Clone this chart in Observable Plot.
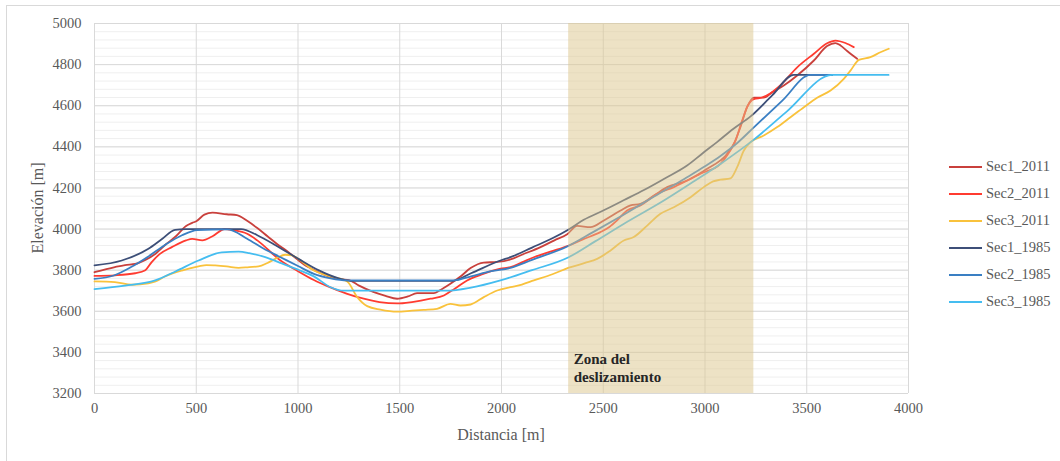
<!DOCTYPE html>
<html>
<head>
<meta charset="utf-8">
<script src="https://cdn.jsdelivr.net/npm/d3@7"></script>
<script src="https://cdn.jsdelivr.net/npm/@observablehq/plot@0.6"></script>
<style>
  html, body { margin: 0; padding: 0; background: #fff; overflow: hidden; }
  #wrap { position: relative; width: 1060px; height: 461px; overflow: hidden; font-family: "Liberation Serif", "Times New Roman", Tinos, "DejaVu Serif", serif; }
  #frame { position: absolute; left: 6px; top: 5px; width: 1100px; height: 500px; border: 1px solid #d9d9d9; box-sizing: border-box; }
  #chart { position: absolute; left: 0; top: 0; }
  #chart svg, #chart svg text { font-family: "Liberation Serif", "Times New Roman", Tinos, "DejaVu Serif", serif !important; }
  .legend { position: absolute; left: 949px; font-size: 14.5px; color: #595959; display: flex; align-items: center; white-space: nowrap; }
  .legend svg { margin-right: 4px; }
  .title { position: absolute; font-size: 16px; color: #595959; white-space: nowrap; }
</style>
</head>
<body>
<div id="wrap">
  <div id="frame"></div>
  <div id="chart"></div>
</div>
<script>
// ---- data ----
const seriesNames = ["Sec1_2011", "Sec2_2011", "Sec3_2011", "Sec1_1985", "Sec2_1985", "Sec3_1985"];
const seriesColors = ["#c9403c", "#ff3b30", "#f9c23c", "#3d4f78", "#3a7fc3", "#45bdf0"];

const sec1_2011 = [[0,3790],[100,3815],[150,3825],[200,3830],[250,3850],[300,3880],[350,3925],[400,3965],[450,4015],[480,4030],[500,4038],[540,4070],[580,4080],[650,4072],[700,4068],[750,4040],[800,4005],[850,3965],[900,3925],[950,3890],[1000,3850],[1050,3815],[1100,3790],[1150,3770],[1209,3756],[1250,3752],[1300,3725],[1373,3693],[1430,3675],[1487,3661],[1540,3672],[1585,3688],[1630,3688],[1667,3688],[1710,3710],[1749,3734],[1800,3770],[1848,3810],[1913,3837],[1979,3840],[2044,3852],[2100,3875],[2192,3912],[2260,3945],[2323,3975],[2372,4015],[2437,4009],[2503,4042],[2585,4090],[2634,4115],[2683,4123],[2749,4163],[2814,4204],[2912,4236],[3011,4293],[3076,4334],[3100,4355],[3142,4415],[3174,4496],[3207,4593],[3240,4639],[3289,4639],[3330,4665],[3387,4698],[3453,4747],[3535,4820],[3600,4890],[3641,4905],[3666,4893],[3700,4865],[3748,4828]];

const sec2_2011 = [[0,3772],[100,3775],[200,3785],[250,3800],[280,3838],[320,3878],[380,3912],[450,3945],[480,3952],[530,3945],[580,3965],[640,4000],[680,3995],[750,3977],[800,3945],[914,3847],[1000,3795],[1078,3752],[1150,3720],[1242,3685],[1323,3661],[1400,3645],[1487,3638],[1560,3645],[1651,3661],[1717,3677],[1770,3710],[1831,3750],[1900,3778],[1995,3807],[2044,3815],[2100,3838],[2159,3863],[2240,3890],[2331,3920],[2400,3950],[2486,3985],[2530,4010],[2568,4042],[2617,4090],[2683,4115],[2765,4172],[2847,4204],[2978,4269],[3076,4317],[3110,4360],[3150,4430],[3180,4520],[3210,4600],[3240,4632],[3280,4640],[3320,4660],[3371,4700],[3453,4787],[3535,4853],[3600,4904],[3641,4917],[3690,4905],[3731,4885]];

const sec3_2011 = [[0,3745],[100,3742],[183,3729],[265,3736],[300,3745],[346,3769],[429,3798],[511,3818],[550,3825],[593,3823],[650,3818],[708,3811],[760,3815],[806,3818],[850,3835],[888,3855],[937,3875],[970,3872],[1002,3855],[1078,3798],[1150,3772],[1242,3745],[1291,3669],[1340,3625],[1405,3608],[1487,3598],[1560,3603],[1618,3607],[1683,3612],[1749,3636],[1798,3628],[1848,3633],[1913,3669],[1979,3701],[2044,3717],[2100,3730],[2159,3750],[2250,3780],[2331,3812],[2410,3835],[2470,3855],[2536,3896],[2601,3944],[2650,3961],[2716,4017],[2781,4074],[2847,4106],[2929,4155],[2994,4204],[3040,4232],[3076,4240],[3125,4246],[3158,4301],[3191,4382],[3224,4423],[3289,4455],[3355,4496],[3420,4544],[3486,4593],[3551,4639],[3617,4674],[3682,4731],[3715,4771],[3756,4823],[3813,4836],[3862,4860],[3903,4877]];

const sec1_1985 = [[0,3823],[134,3847],[265,3904],[330,3950],[396,3996],[450,4000],[720,4000],[800,3970],[900,3915],[1002,3855],[1100,3800],[1200,3760],[1258,3748],[1760,3748],[1850,3785],[1995,3847],[2044,3863],[2150,3910],[2250,3955],[2330,3998],[2404,4045],[2500,4090],[2600,4140],[2700,4190],[2800,4245],[2912,4309],[2990,4370],[3059,4423],[3140,4488],[3224,4548],[3330,4650],[3436,4750],[3625,4750]];

const sec2_1985 = [[0,3758],[95,3774],[180,3815],[259,3863],[350,3925],[430,3970],[505,3995],[652,3998],[750,3953],[830,3905],[914,3863],[1000,3820],[1078,3782],[1160,3760],[1242,3750],[1766,3750],[1850,3770],[1950,3795],[2044,3811],[2150,3850],[2323,3915],[2450,3985],[2600,4070],[2750,4158],[2900,4245],[3000,4305],[3076,4355],[3160,4420],[3240,4495],[3380,4625],[3518,4750],[3625,4750]];

const sec3_1985 = [[0,3708],[150,3725],[298,3750],[400,3795],[511,3847],[626,3887],[708,3890],[760,3883],[839,3863],[920,3833],[1002,3802],[1078,3770],[1160,3717],[1225,3700],[1733,3700],[1850,3715],[1995,3750],[2150,3800],[2330,3863],[2460,3940],[2600,4025],[2800,4140],[2950,4235],[3076,4317],[3240,4435],[3400,4570],[3625,4750],[3902,4750]];

const xTicks = [0, 500, 1000, 1500, 2000, 2500, 3000, 3500, 4000];
const yTicks = [3200, 3400, 3600, 3800, 4000, 4200, 4400, 4600, 4800, 5000];
const yMinorTicks = d3.range(3200, 5001, 40);

const zone = [{x1: 2330, x2: 3240}];
const zoneLabel = [{x: 2330, y: 3410, text: "Zona del\ndeslizamiento"}];

// ---- build ----
const FONT = '"Liberation Serif", "Times New Roman", Tinos, "DejaVu Serif", serif';
const allSeries = [sec1_2011, sec2_2011, sec3_2011, sec1_1985, sec2_1985, sec3_1985];
const rows = [];
allSeries.forEach((s, i) => s.forEach(([d, e]) => rows.push({serie: seriesNames[i], d, e})));

const chart = Plot.plot({
  width: 1060,
  height: 461,
  marginLeft: 94,
  marginRight: 152,
  marginTop: 23,
  marginBottom: 68,
  style: {fontFamily: FONT, fontSize: "14.5px", color: "#595959", background: "transparent"},
  x: {domain: [0, 4000], ticks: xTicks, label: null, tickFormat: d => String(d)},
  y: {domain: [3200, 5000], ticks: yTicks, label: null, tickFormat: d => String(d)},
  color: {domain: seriesNames, range: seriesColors},
  marks: [
    Plot.gridY(yMinorTicks, {stroke: "#efefef", strokeOpacity: 1}),
    Plot.gridY(yTicks, {stroke: "#d9d9d9", strokeOpacity: 1}),
    Plot.gridX(xTicks, {stroke: "#d9d9d9", strokeOpacity: 1}),
    Plot.axisX(xTicks, {tickSize: 0, tickPadding: 9, fill: "#595959", tickFormat: d => String(d), fontFamily: FONT}),
    Plot.axisY(yTicks, {tickSize: 0, tickPadding: 13, fill: "#595959", tickFormat: d => String(d), fontFamily: FONT}),
    Plot.line(rows, {x: "d", y: "e", z: "serie", stroke: "serie", strokeWidth: 1.8, curve: "monotone-x"}),
    Plot.rect(zone, {x1: "x1", x2: "x2", fill: "#dcc68c", fillOpacity: 0.5}),
    Plot.text(zoneLabel, {x: "x", y: "y", text: "text", dx: 5, textAnchor: "start", lineAnchor: "top", lineHeight: 1.25, fontWeight: "bold", fontSize: 15, fill: "#262626", fontFamily: FONT})
  ]
});
document.getElementById("chart").appendChild(chart);

// axis titles
const wrap = document.getElementById("wrap");
const xt = document.createElement("div");
xt.className = "title"; xt.textContent = "Distancia [m]";
xt.style.left = "501px"; xt.style.top = "426px"; xt.style.transform = "translateX(-50%)";
wrap.appendChild(xt);
const yt = document.createElement("div");
yt.className = "title"; yt.textContent = "Elevación [m]";
yt.style.left = "38px"; yt.style.top = "208px"; yt.style.transform = "translate(-50%,-50%) rotate(-90deg)";
wrap.appendChild(yt);

// legend
seriesNames.forEach((name, i) => {
  const row = document.createElement("div");
  row.className = "legend";
  row.style.top = (167 + i * 27 - 9) + "px";
  row.innerHTML = `<svg width="33" height="4"><line x1="0" x2="33" y1="2" y2="2" stroke="${seriesColors[i]}" stroke-width="2"/></svg><span>${name}</span>`;
  wrap.appendChild(row);
});
</script>
</body>
</html>
